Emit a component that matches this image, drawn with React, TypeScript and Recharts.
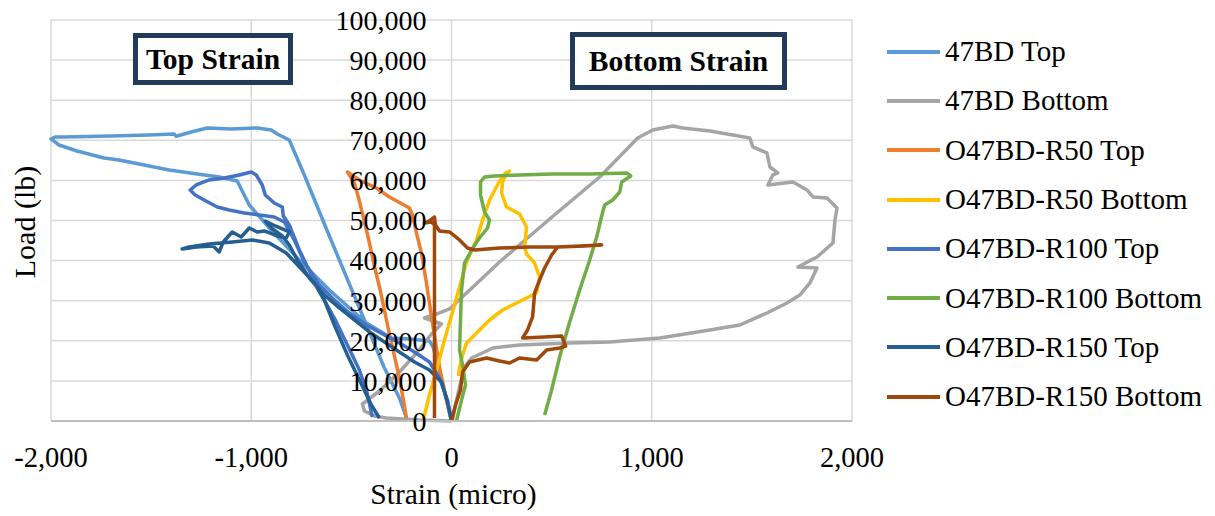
import React from "react";
import { LineChart, Line, XAxis, YAxis, CartesianGrid, Legend, Label } from "recharts";

// strain (micro) vs load (lb), points in recording order
const top47BD: [number, number][] = [
  [0, 0], [-25, 5237], [-60, 12719], [-90, 18206], [-110, 19952], [-210, 20451], [-300, 20700],
  [-425, 24441], [-610, 32671], [-760, 40153], [-910, 48134], [-1010, 53870], [-1070, 59856],
  [-1160, 60854], [-1270, 61602], [-1410, 62600], [-1535, 63846], [-1660, 65094], [-1735, 65592],
  [-1870, 67338], [-1960, 68834], [-2000, 70331], [-1980, 70830], [-1935, 70830], [-1700, 71079],
  [-1510, 71328], [-1385, 71578], [-1375, 71000], [-1300, 72077], [-1220, 73074], [-1100, 72825],
  [-970, 73074], [-900, 72575], [-870, 71578], [-810, 70081], [-735, 61352], [-610, 46139],
  [-460, 28182], [-335, 13218], [-260, 5736], [-225, 748],
];

const bottom47BD: [number, number][] = [
  [0, 0], [-160, 249], [-325, 748], [-385, 1247], [-435, 2494], [-445, 4240], [-360, 7482],
  [-260, 12221], [-170, 17209], [-100, 21698], [-50, 24192], [-135, 25688], [-60, 26935],
  [-10, 27933], [240, 39655], [490, 50379], [740, 60854], [930, 70580], [1005, 72575],
  [1105, 73573], [1155, 73074], [1290, 72326], [1405, 71328], [1490, 70580], [1505, 68336],
  [1575, 66839], [1590, 63348], [1630, 61852], [1605, 61353], [1580, 58858], [1705, 59607],
  [1775, 57611], [1805, 55866], [1875, 55616], [1925, 53122], [1915, 50129], [1905, 44393],
  [1825, 40902], [1730, 38408], [1825, 38158], [1790, 34417], [1740, 31424], [1675, 29429],
  [1575, 26935], [1440, 23942], [1290, 22695], [1040, 20700], [790, 19703], [590, 19453],
  [340, 18954], [205, 18206], [175, 17458], [100, 15712], [65, 13468], [40, 8480], [15, 2743],
  [5, 249],
];

const topR50: [number, number][] = [
  [0, 0], [-25, 5237], [-60, 13468], [-95, 24442], [-125, 34418], [-150, 41900], [-175, 46888],
  [-195, 51377], [-210, 53123], [-310, 55866], [-375, 58111], [-460, 60106], [-520, 62101],
  [-510, 61353], [-485, 59358], [-460, 54869], [-420, 46639], [-385, 38657], [-355, 32422],
  [-310, 21698], [-260, 10724], [-235, 3741], [-225, 748],
];

const bottomR50: [number, number][] = [
  [-140, 499], [-110, 6484], [-75, 12719], [-35, 20201], [15, 28930], [75, 39654], [125, 45141],
  [155, 50129], [190, 55117], [240, 59856], [270, 61851], [290, 62350], [270, 61352],
  [255, 59606], [250, 56863], [275, 53371], [340, 51625], [375, 48383], [365, 43395],
  [375, 41649], [415, 39405], [440, 35913], [425, 31923], [325, 29429], [255, 27683],
  [190, 25189], [125, 21947], [75, 19453], [55, 16460], [40, 13218], [35, 11223],
];

const topR100: [number, number][] = [
  [0, 0], [-20, 5237], [-60, 10724], [-110, 14714], [-185, 17209], [-260, 19453], [-335, 21449],
  [-425, 23942], [-510, 26935], [-585, 30177], [-660, 33918], [-735, 39655], [-785, 45141],
  [-835, 49630], [-885, 50877], [-960, 51376], [-1035, 51875], [-1110, 52623], [-1170, 53371],
  [-1235, 55117], [-1280, 56364], [-1305, 57611], [-1275, 58858], [-1210, 60105], [-1135, 60604],
  [-1060, 61352], [-1000, 62101], [-975, 61352], [-945, 58858], [-930, 56364], [-885, 54369],
  [-845, 53371], [-840, 51126], [-810, 48882], [-760, 42647], [-700, 36412], [-650, 31424],
  [-585, 25688], [-520, 18954], [-460, 12719], [-425, 7731], [-395, 998],
];

const bottomR100: [number, number][] = [
  [25, 0], [50, 5237], [70, 8978], [55, 13966], [40, 17707], [45, 25189], [50, 32671],
  [65, 39405], [100, 42647], [140, 45640], [180, 48134], [190, 50129], [165, 52124],
  [145, 56364], [145, 59607], [165, 60854], [215, 61103], [340, 61353], [505, 61602],
  [690, 61602], [875, 61852], [895, 61103], [850, 59607], [840, 57113], [805, 55117],
  [765, 53870], [755, 52124], [725, 45889], [690, 40153], [640, 32671], [590, 24690],
  [540, 15961], [500, 7731], [465, 1496],
];

const topR150: [number, number][] = [
  [0, 0], [-20, 4739], [-50, 9726], [-110, 12719], [-185, 14714], [-260, 17209], [-335, 19703],
  [-410, 22197], [-485, 25189], [-560, 28182], [-635, 31424], [-710, 35664], [-770, 40153],
  [-810, 43894], [-845, 46140], [-900, 48134], [-930, 49880], [-880, 48633], [-810, 47137],
  [-825, 45640], [-870, 46139], [-935, 47386], [-970, 47137], [-1010, 48134], [-1050, 45889],
  [-1095, 47137], [-1140, 44643], [-1160, 42149], [-1190, 43645], [-1275, 43396], [-1345, 42897],
  [-1310, 43396], [-1210, 44144], [-1095, 44643], [-995, 45142], [-910, 44393], [-825, 41900],
  [-745, 37660], [-685, 34418], [-635, 30177], [-585, 23942], [-520, 16460], [-460, 10225],
  [-400, 3990], [-360, 748],
];

const bottomR150: [number, number][] = [
  [0, 0], [20, 3990], [45, 7731], [55, 12222], [90, 14714], [175, 15712], [240, 14963],
  [290, 14465], [340, 15712], [425, 15213], [475, 17707], [540, 18206], [570, 18705],
  [550, 21199], [465, 20950], [355, 20700], [380, 22696], [405, 25938], [415, 31923],
  [440, 35164], [465, 38157], [500, 41400], [530, 43395], [640, 43644], [750, 43894],
  [665, 43644], [530, 43395], [390, 43395], [240, 43146], [115, 42647], [80, 43146],
  [40, 45141], [-10, 47137], [-60, 47386], [-80, 48882], [-85, 50877], [-110, 49880],
  [-135, 49381], [-100, 49630], [-85, 48882], [-85, 30177], [-85, 10225], [-85, 748],
];

const xTicks = [-2000, -1000, 0, 1000, 2000];
const yTicks = [0, 10000, 20000, 30000, 40000, 50000, 60000, 70000, 80000, 90000, 100000];

const series = [
  { name: "47BD Top", color: "#5B9BD5", points: top47BD },
  { name: "47BD Bottom", color: "#A5A5A5", points: bottom47BD },
  { name: "O47BD-R50 Top", color: "#ED7D31", points: topR50 },
  { name: "O47BD-R50 Bottom", color: "#FFC000", points: bottomR50 },
  { name: "O47BD-R100 Top", color: "#4472C4", points: topR100 },
  { name: "O47BD-R100 Bottom", color: "#70AD47", points: bottomR100 },
  { name: "O47BD-R150 Top", color: "#255E91", points: topR150 },
  { name: "O47BD-R150 Bottom", color: "#9E480E", points: bottomR150 },
];

const W = 1215;
const H = 516;
const PLOT_LEFT = 51;
const PLOT_RIGHT = 852;
const PLOT_BOTTOM = 421;
const ZERO_X = (PLOT_LEFT + PLOT_RIGHT) / 2;
const FONT = '"Liberation Serif", "Times New Roman", serif';
const BOX = "#213B58";

const fmt = (v: number) => v.toLocaleString("en-US");

function YTick({ y, payload }: any) {
  return (
    <text x={ZERO_X - 25} y={y} dy="0.35em" textAnchor="end" fontFamily={FONT} fontSize={28} fill="#000">
      {fmt(payload.value)}
    </text>
  );
}

function XTick({ x, payload }: any) {
  return (
    <text x={x} y={PLOT_BOTTOM + 46} textAnchor="middle" fontFamily={FONT} fontSize={28.5} fill="#000">
      {fmt(payload.value)}
    </text>
  );
}

// legend keeps the series order (Recharts would sort it by name)
function LegendContent() {
  return (
    <div style={{ fontFamily: FONT, fontSize: 29, color: "#000" }}>
      {series.map((s) => (
        <div key={s.name} style={{ display: "flex", alignItems: "center", height: 49.3, whiteSpace: "nowrap" }}>
          <span style={{ display: "inline-block", width: 53, height: 4, background: s.color, marginRight: 5 }} />
          <span>{s.name}</span>
        </div>
      ))}
    </div>
  );
}

function Box({ left, top, width, height, text }: any) {
  return (
    <div
      style={{
        position: "absolute", left, top, width, height, boxSizing: "border-box",
        border: `5px solid ${BOX}`, background: "#fff", display: "flex",
        alignItems: "center", justifyContent: "center",
        fontFamily: FONT, fontWeight: "bold", fontSize: 29.5, color: "#000",
      }}
    >
      {text}
    </div>
  );
}

export default function App() {
  return (
    <div style={{ position: "absolute", left: 0, top: 0, width: W, height: H, background: "#fff" }}>
      <LineChart width={W} height={H} margin={{ top: 20, right: W - PLOT_RIGHT, bottom: 35, left: PLOT_LEFT - 1 }}>
        <CartesianGrid stroke="#d9d9d9" strokeWidth={1.5} />
        <XAxis
          type="number" dataKey="x" domain={[-2000, 2000]} ticks={xTicks} interval={0}
          height={60} tickLine={false} axisLine={{ stroke: "#bfbfbf", strokeWidth: 2 }}
          tick={<XTick />}
        >
          <Label
            content={() => (
              <text x={ZERO_X + 2} y={504} textAnchor="middle" fontFamily={FONT} fontSize={29.5} fill="#000">
                Strain (micro)
              </text>
            )}
          />
        </XAxis>
        <YAxis
          type="number" dataKey="y" domain={[0, 100000]} ticks={yTicks} interval={0}
          width={1} tickLine={false} axisLine={false} tick={<YTick />}
        >
          <Label
            content={() => (
              <text
                x={24} y={222} transform="rotate(-90 24 222)" textAnchor="middle" dy="0.35em"
                fontFamily={FONT} fontSize={30} fill="#000"
              >
                Load (lb)
              </text>
            )}
          />
        </YAxis>
        <Legend
          layout="vertical" align="center" verticalAlign="middle"
          wrapperStyle={{ left: 887, top: 27, width: 328 }}
          content={<LegendContent />}
        />
        {series.map((s) => (
          <Line
            key={s.name}
            name={s.name}
            data={s.points.map(([x, y]) => ({ x, y }))}
            dataKey="y"
            type="linear"
            stroke={s.color}
            strokeWidth={3.5}
            strokeLinejoin="round"
            dot={false}
            activeDot={false}
            isAnimationActive={false}
          />
        ))}
      </LineChart>
      <Box left={133} top={33} width={160} height={52} text="Top Strain" />
      <Box left={570} top={32} width={217} height={58} text="Bottom Strain" />
    </div>
  );
}
